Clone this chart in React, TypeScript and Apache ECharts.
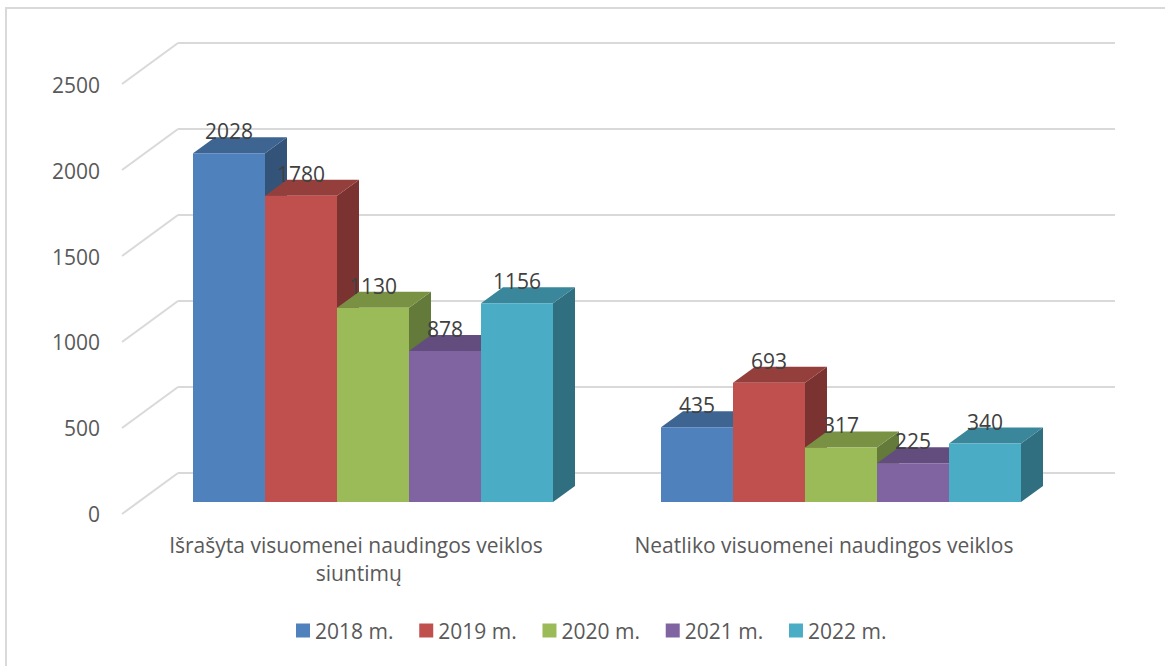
import React, { useEffect, useRef } from "react";
import * as echarts from "echarts";

const categories = ["Išrašyta visuomenei naudingos veiklos siuntimų", "Neatliko visuomenei naudingos veiklos"];
const years = ["2018 m.", "2019 m.", "2020 m.", "2021 m.", "2022 m."];
const values2018 = [2028, 435];
const values2019 = [1780, 693];
const values2020 = [1130, 317];
const values2021 = [878, 225];
const values2022 = [1156, 340];
const seriesValues = [values2018, values2019, values2020, values2021, values2022];
const frontColors = ["#4F81BD", "#C0504D", "#9BBB59", "#8064A2", "#4BACC6"];
const topColors = ["#3E6592", "#953F3C", "#789143", "#634D7E", "#3A869A"];
const sideColors = ["#335379", "#7B3331", "#647A3A", "#524168", "#306F80"];
const yTicks = [0, 500, 1000, 1500, 2000, 2500];

const FONT = '"Open Sans"';
const DEPTH_X = 22;
const DEPTH_Y = 16;

export default function App() {
  const ref = useRef<HTMLDivElement>(null);
  useEffect(() => {
    document.body.style.margin = "0";
    const chart = echarts.init(ref.current!, null, { renderer: "svg" });

    const barSeries = years.map((name, s) => ({
      type: "custom",
      name,
      xAxisIndex: 2,
      yAxisIndex: 2,
      clip: false,
      z: 2,
      itemStyle: { color: frontColors[s] },
      encode: { x: 0, y: 1 },
      data: seriesValues[s].map((v, i) => [i, v]),
      renderItem: (_p: any, api: any) => {
        const cat = api.value(0);
        const val = api.value(1);
        const top = api.coord([cat, val]);
        const base = api.coord([cat, 0]);
        const band = api.size([1, 0])[0];
        const w = band / 6.5;
        const x0 = top[0] + (s - 2.5) * w;
        const x1 = x0 + w;
        const yT = top[1];
        const yB = base[1];
        return {
          type: "group",
          children: [
            {
              type: "polygon",
              shape: { points: [[x1, yT], [x1 + DEPTH_X, yT - DEPTH_Y], [x1 + DEPTH_X, yB - DEPTH_Y], [x1, yB]] },
              style: { fill: sideColors[s] },
            },
            {
              type: "polygon",
              shape: { points: [[x0, yT], [x0 + DEPTH_X, yT - DEPTH_Y], [x1 + DEPTH_X, yT - DEPTH_Y], [x1, yT]] },
              style: { fill: topColors[s] },
            },
            {
              type: "rect",
              shape: { x: x0, y: yT, width: w, height: yB - yT },
              style: { fill: frontColors[s] },
            },
          ],
        };
      },
    }));

    const labelSeries = years.map((name, s) => ({
      type: "custom",
      name: `${name} labels`,
      xAxisIndex: 2,
      yAxisIndex: 2,
      clip: false,
      silent: true,
      z: 10,
      encode: { x: 0, y: 1 },
      data: seriesValues[s].map((v, i) => [i, v]),
      renderItem: (_p: any, api: any) => {
        const val = api.value(1);
        const top = api.coord([api.value(0), val]);
        const w = api.size([1, 0])[0] / 6.5;
        return {
          type: "text",
          style: {
            x: top[0] + (s - 2) * w,
            y: top[1] - 22,
            text: String(val),
            align: "center",
            verticalAlign: "middle",
            fill: "#404040",
            font: `21px ${FONT}`,
          },
        };
      },
    }));

    chart.setOption({
      animation: false,
      backgroundColor: "#FFFFFF",
      textStyle: { fontFamily: FONT },
      graphic: [
        {
          type: "rect",
          shape: { x: 6, y: 8, width: 1400, height: 900 },
          style: { fill: "none", stroke: "#D9D9D9", lineWidth: 2 },
          silent: true,
        },
      ],
      legend: {
        data: years,
        left: 296,
        top: 620,
        padding: 0,
        itemWidth: 14,
        itemHeight: 14,
        itemGap: 25.8,
        icon: "rect",
        textStyle: { color: "#595959", fontSize: 21, fontFamily: FONT },
      },
      grid: [
        { left: 122, top: 85, width: 936, height: 429 },
        { left: 178, top: 43, width: 937, height: 430 },
        { left: 139, top: 72, width: 936, height: 430 },
      ],
      xAxis: [
        {
          gridIndex: 0,
          type: "category",
          data: categories,
          axisLine: { show: false },
          axisTick: { show: false },
          axisLabel: {
            color: "#595959",
            fontSize: 21,
            fontFamily: FONT,
            margin: 17,
            lineHeight: 28,
            width: 400,
            overflow: "break",
            interval: 0,
          },
        },
        { gridIndex: 1, type: "value", min: 0, max: 1, show: false },
        { gridIndex: 2, type: "category", data: categories, show: false },
      ],
      yAxis: [
        {
          gridIndex: 0,
          type: "value",
          min: 0,
          max: 2500,
          interval: 500,
          axisLine: { show: false },
          axisTick: { show: false },
          splitLine: { show: false },
          axisLabel: {
            color: "#595959",
            fontSize: 21,
            fontFamily: FONT,
            margin: 22,
            padding: [4, 0, 0, 0],
            formatter: (v: number) => String(v),
          },
        },
        {
          gridIndex: 1,
          type: "value",
          min: 0,
          max: 2500,
          interval: 500,
          axisLine: { show: false },
          axisTick: { show: false },
          axisLabel: { show: false },
          splitLine: { show: true, lineStyle: { color: "#D9D9D9", width: 2 } },
        },
        { gridIndex: 2, type: "value", min: 0, max: 2500, interval: 500, show: false, splitLine: { show: false } },
      ],
      series: [
        {
          type: "custom",
          name: "grid-diagonals",
          xAxisIndex: 1,
          yAxisIndex: 1,
          clip: false,
          silent: true,
          encode: { x: 0, y: 1 },
          data: yTicks.map((t) => [0, t]),
          renderItem: (_p: any, api: any) => {
            const p = api.coord([api.value(0), api.value(1)]);
            return {
              type: "line",
              shape: { x1: p[0], y1: p[1], x2: p[0] - 56, y2: p[1] + 41 },
              style: { stroke: "#D9D9D9", lineWidth: 2 },
            };
          },
        },
        ...barSeries,
        ...labelSeries,
      ],
    });
    return () => chart.dispose();
  }, []);
  return <div ref={ref} style={{ position: "fixed", left: 0, top: 0, width: 1165, height: 666 }} />;
}
